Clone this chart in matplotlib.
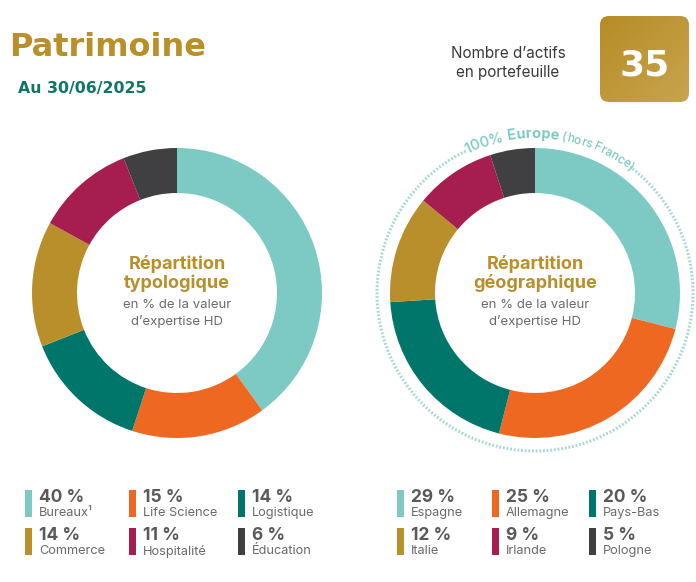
import numpy as np
import matplotlib.pyplot as plt
from matplotlib.colors import LinearSegmentedColormap
from matplotlib.patches import FancyBboxPatch, Arc, Rectangle

# data
typo_labels = ['Bureaux¹', 'Life Science', 'Logistique', 'Commerce', 'Hospitalité', 'Éducation']
typo_values = [40, 15, 14, 14, 11, 6]
geo_labels = ['Espagne', 'Allemagne', 'Pays-Bas', 'Italie', 'Irlande', 'Pologne']
geo_values = [29, 25, 20, 12, 9, 5]
colors = ['#7ccac3', '#ef6822', '#00766b', '#b98f2b', '#a51e4f', '#404042']
nb_actifs = 35

W, H = 696, 582
GOLD = '#b98f2a'
GREEN = '#0f7566'
GREY = '#5a5a5a'
plt.rcParams['font.family'] = ['Inter', 'DejaVu Sans']

fig = plt.figure(figsize=(W / 100, H / 100), dpi=100)
ax = fig.add_axes([0, 0, 1, 1])


def Y(y):
    # y measured from the top of the picture
    return H - y


# header
ax.text(9, Y(48), 'Patrimoine', fontsize=23, fontweight='bold', color=GOLD, va='center', ha='left',
        family='DejaVu Sans')
ax.text(18, Y(89), 'Au 30/06/2025', fontsize=11.3, fontweight='bold', color=GREEN, va='center', ha='left',
        family='DejaVu Sans')
ax.text(508, Y(63), 'Nombre d’actifs\nen portefeuille', fontsize=11, color='#3a3a3a',
        ha='center', va='center', linespacing=1.35)

box = FancyBboxPatch((600, Y(102)), 89, 86, boxstyle='round,pad=0,rounding_size=9',
                     facecolor='none', edgecolor='none')
ax.add_patch(box)
g = np.linspace(0, 1, 100)
grad = np.add.outer(g[::-1], g) / 2
im = ax.imshow(grad, extent=(600, 689, Y(102), Y(16)), origin='lower', zorder=1,
               cmap=LinearSegmentedColormap.from_list('g', ['#b68c25', '#c9a44f']))
im.set_clip_path(box)
ax.text(645, Y(66), str(nb_actifs), fontsize=26, fontweight='bold', color='white', ha='center', va='center',
        zorder=2, family='DejaVu Sans')


def donut(cx, cy, values):
    ax.pie(values, colors=colors, radius=145, center=(cx, Y(cy)), startangle=90, counterclock=False,
           wedgeprops=dict(width=45, edgecolor='none', linewidth=0))


donut(177, 293, typo_values)
donut(535, 293, geo_values)

for cx, word in [(177, 'typologique'), (535, 'géographique')]:
    ax.text(cx, Y(264), 'Répartition', fontsize=13, fontweight='bold', color=GOLD, ha='center', va='center')
    ax.text(cx, Y(283), word, fontsize=13, fontweight='bold', color=GOLD, ha='center', va='center')
    ax.text(cx, Y(305), 'en % de la valeur', fontsize=9.5, color='#6b6b6b', ha='center', va='center')
    ax.text(cx, Y(322), 'd’expertise HD', fontsize=9.5, color='#6b6b6b', ha='center', va='center')

# circle round the geographic donut with curved text
R = 158
cx, cy = 535, Y(293)
ax.add_patch(Arc((cx, cy), 2 * R, 2 * R, theta1=116, theta2=53, color='#a6d9d4', lw=2.2,
                 linestyle=(0, (0.6, 0.6))))

fig.canvas.draw()
renderer = fig.canvas.get_renderer()
pieces = [('100% ', 10.5, 'medium'), ('Europe ', 10.5, 'bold'), ('(hors France)', 8.5, 'medium')]
chars = []
for s, fs, fw in pieces:
    for ch in s:
        t = ax.text(0, 0, ch, fontsize=fs, fontweight=fw)
        w = t.get_window_extent(renderer).width
        t.remove()
        chars.append((ch, fs, fw, w))
total = sum(c[3] for c in chars)
Rt = R - 3
mid = 84
ang = np.radians(mid) + total / 2 / Rt
for ch, fs, fw, w in chars:
    a = ang - w / 2 / Rt
    ax.text(cx + Rt * np.cos(a), cy + Rt * np.sin(a), ch, fontsize=fs, fontweight=fw, color='#7ccac3',
            rotation=np.degrees(a) - 90, rotation_mode='anchor', ha='center', va='baseline')
    ang -= w / Rt


# legends
def legend(bar_x, labels, values):
    for i, (lab, v) in enumerate(zip(labels, values)):
        bx = bar_x[i % 3]
        top = 490 if i < 3 else 528
        ax.add_patch(Rectangle((bx, Y(top + 27)), 7, 27, facecolor=colors[i], edgecolor='none'))
        ax.text(bx + 14, Y(top + 7), f'{v} %', fontsize=12.5, fontweight='bold', color=GREY,
                ha='left', va='center')
        ax.text(bx + 14, Y(top + 23), lab, fontsize=9.2, color='#6a6a6a', ha='left', va='center')


legend([25, 129, 238], typo_labels, typo_values)
legend([397, 492, 589], geo_labels, geo_values)

ax.set_xlim(0, W)
ax.set_ylim(0, H)
ax.set_aspect('equal')
ax.axis('off')

fig.savefig('out.png', dpi=100)
